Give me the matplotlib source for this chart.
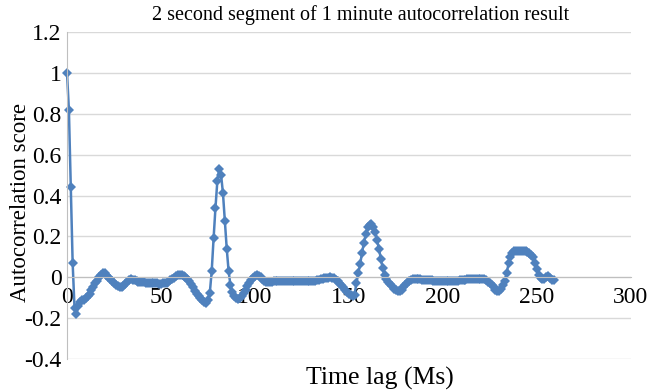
import numpy as np
import matplotlib.pyplot as plt
from matplotlib.ticker import FuncFormatter

# autocorrelation score per lag
acf_0_35 = [1.0, 0.82, 0.44, 0.07, -0.15, -0.18,
            -0.14, -0.12, -0.11, -0.11, -0.10, -0.09, -0.08, -0.06, -0.05,
            -0.03, -0.02, 0.0, 0.01, 0.02,
            0.02, 0.01, 0.0, -0.01, -0.02, -0.03, -0.04, -0.045, -0.05, -0.05,
            -0.045, -0.035, -0.025, -0.015, -0.01, -0.012]
acf_36_74 = [-0.015, -0.02, -0.022, -0.025, -0.025, -0.025, -0.028, -0.028,
             -0.027, -0.027, -0.028, -0.03, -0.03, -0.032, -0.032,
             -0.03, -0.03, -0.028, -0.022, -0.015, -0.008, -0.002, 0.005,
             0.01, 0.012, 0.012,
             0.008, 0.0, -0.01, -0.02, -0.035, -0.05, -0.065, -0.08, -0.09,
             -0.10, -0.11, -0.12, -0.125]
acf_75_106 = [-0.11, -0.075, 0.03, 0.19, 0.34, 0.47, 0.53, 0.50, 0.41,
              0.275, 0.14, 0.03, -0.04, -0.07, -0.09,
              -0.10, -0.105, -0.10, -0.09, -0.075, -0.06, -0.045, -0.03,
              -0.015, -0.005, 0.005, 0.01,
              0.008, 0.0, -0.01, -0.02, -0.025]
acf_107_152 = [-0.025, -0.024, -0.022, -0.02, -0.02, -0.019, -0.019, -0.02,
               -0.02, -0.019, -0.018, -0.018, -0.018, -0.019, -0.02, -0.02,
               -0.019, -0.018, -0.017, -0.017, -0.018, -0.019, -0.02, -0.02,
               -0.019, -0.017, -0.015, -0.013, -0.01, -0.007, -0.005, -0.003,
               -0.002, -0.001,
               -0.002, -0.005, -0.012, -0.02, -0.03, -0.04, -0.05, -0.06,
               -0.07, -0.08, -0.088, -0.09]
acf_153_185 = [-0.085, -0.03, 0.02, 0.065, 0.12, 0.17, 0.21, 0.245, 0.255,
               0.26, 0.245, 0.22, 0.18, 0.14, 0.09, 0.045, 0.01, -0.01,
               -0.025, -0.035, -0.045, -0.055, -0.06, -0.065, -0.065, -0.06,
               -0.05, -0.04, -0.03, -0.02, -0.015, -0.01, -0.008]
acf_186_233 = [-0.008, -0.009, -0.01, -0.011, -0.012, -0.013, -0.014, -0.015,
               -0.015, -0.016, -0.016, -0.017, -0.017, -0.018, -0.018, -0.018,
               -0.019, -0.019, -0.019, -0.018, -0.018, -0.017, -0.016, -0.015,
               -0.014, -0.012, -0.011, -0.01, -0.009, -0.008, -0.007, -0.006,
               -0.006, -0.006, -0.007,
               -0.008, -0.01, -0.015, -0.022, -0.03, -0.04, -0.05, -0.06,
               -0.065, -0.065, -0.055, -0.04, -0.02]
acf_234_259 = [0.02, 0.07, 0.10, 0.12, 0.13, 0.13, 0.13, 0.13, 0.13, 0.13,
               0.128, 0.125, 0.12, 0.11, 0.10, 0.07, 0.04, 0.01, -0.005,
               -0.01, -0.01, 0.0, 0.005, -0.005, -0.012, -0.015]

acf = (acf_0_35 + acf_36_74 + acf_75_106 + acf_107_152
       + acf_153_185 + acf_186_233 + acf_234_259)
lag = np.arange(len(acf))

plt.rcParams["font.family"] = ["Liberation Serif", "DejaVu Serif"]
plt.rcParams["axes.unicode_minus"] = False

fig = plt.figure(figsize=(6.55, 3.91), dpi=100)
ax = fig.add_axes([0.1023, 0.0818, 0.8607, 0.8362])

ax.plot(lag, acf, color="#4F81BD", lw=1.8, marker="D", ms=5.5,
        markeredgewidth=0, clip_on=False)

ax.set_xlim(0, 300)
ax.set_ylim(-0.4, 1.2)
ax.set_xticks(np.arange(0, 301, 50))
ax.set_yticks(np.arange(-0.4, 1.21, 0.2))
ax.yaxis.set_major_formatter(FuncFormatter(lambda v, p: f"{round(v, 1):g}"))

ax.grid(axis="y", color="#D9D9D9", lw=1)
ax.set_axisbelow(True)
for s in ["top", "right"]:
    ax.spines[s].set_visible(False)
ax.spines["bottom"].set_position(("data", 0))
ax.spines["bottom"].set_color("#BFBFBF")
ax.spines["left"].set_color("#BFBFBF")
ax.tick_params(length=0, labelsize=17)
ax.tick_params(axis="x", pad=7)
ax.tick_params(axis="y", pad=4)

fig.text(0.55, 0.962, "2 second segment of 1 minute autocorrelation result",
         fontsize=14.5, ha="center", va="center")
fig.text(0.031, 0.483, "Autocorrelation score", fontsize=16.5,
         rotation=90, ha="center", va="center")
fig.text(0.58, 0.033, "Time lag (Ms)", fontsize=18.5,
         ha="center", va="center")

fig.savefig("out.png", dpi=100)
